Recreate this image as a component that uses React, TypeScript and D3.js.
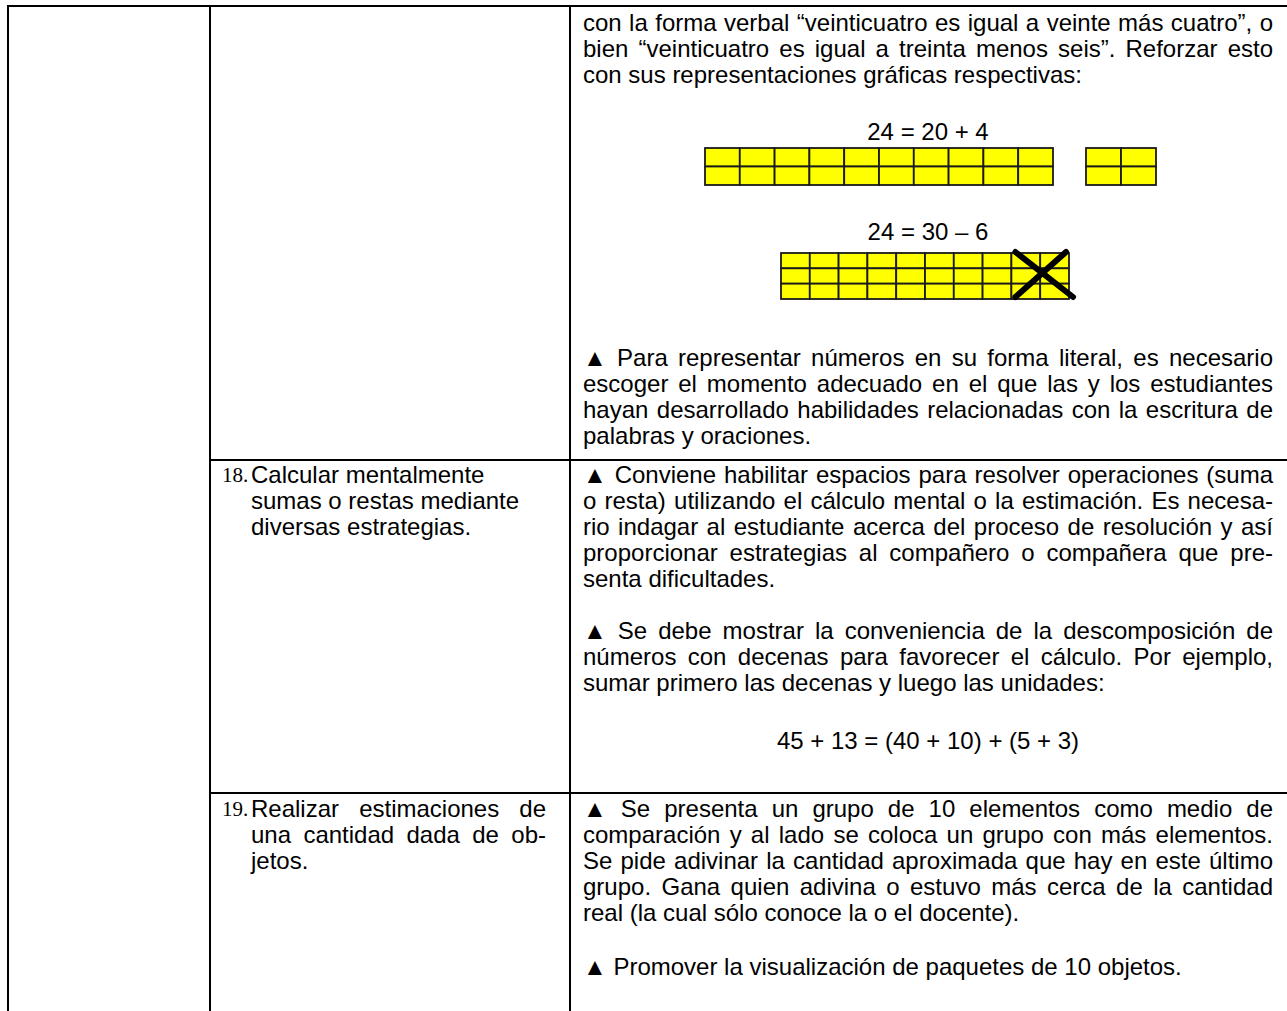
import React, { useEffect, useRef } from 'react';
import * as d3 from 'd3';

// table text, one entry per printed line
const topCellLines = [
  'con la forma verbal “veinticuatro es igual a veinte más cuatro”, o',
  'bien “veinticuatro es igual a treinta menos seis”. Reforzar esto',
  'con sus representaciones gráficas respectivas:',
];
const topCellBullet = [
  '▲ Para representar números en su forma literal, es necesario',
  'escoger el momento adecuado en el que las y los estudiantes',
  'hayan desarrollado habilidades relacionadas con la escritura de',
  'palabras y oraciones.',
];
const row18Bullet1 = [
  '▲ Conviene habilitar espacios para resolver operaciones (suma',
  'o resta) utilizando el cálculo mental o la estimación. Es necesa-',
  'rio indagar al estudiante acerca del proceso de resolución y así',
  'proporcionar estrategias al compañero o compañera que pre-',
  'senta dificultades.',
];
const row18Bullet2 = [
  '▲ Se debe mostrar la conveniencia de la descomposición de',
  'números con decenas para favorecer el cálculo. Por ejemplo,',
  'sumar primero las decenas y luego las unidades:',
];
const row19Bullet1 = [
  '▲ Se presenta un grupo de 10 elementos como medio de',
  'comparación y al lado se coloca un grupo con más elementos.',
  'Se pide adivinar la cantidad aproximada que hay en este último',
  'grupo. Gana quien adivina o estuvo más cerca de la cantidad',
  'real (la cual sólo conoce la o el docente).',
];
const row19Bullet2 = ['▲ Promover la visualización de paquetes de 10 objetos.'];

const objectives = [
  { num: '18.', lines: ['Calcular mentalmente', 'sumas o restas mediante', 'diversas estrategias.'], justify: false },
  { num: '19.', lines: ['Realizar estimaciones de', 'una cantidad dada de ob-', 'jetos.'], justify: true },
];

const formulaAdd = '24 = 20 + 4';
const formulaSub = '24 = 30 – 6';
const formulaMental = '45 + 13 = (40 + 10) + (5 + 3)';

// 24 = 20 + 4 : two strips of ten and a block of four (2 rows)
const addRows = 2;
const addTensCols = 10;
const addOnesCols = 2;
// 24 = 30 - 6 : 3 rows of ten, last two columns crossed
const subRows = 3;
const subCols = 10;
const subCrossedCols = 2;

const W = 1287;
const H = 1011;
const FONT = 'Liberation Sans, Arial, sans-serif';
const FS = 24;
const LH = 26;
const textL = 583;
const textR = 1273;
const colL = 8, col1 = 210, col2 = 570;
const topY = 6, row2Y = 460, row3Y = 793;

type Block = { lines: string[]; y: number; justify: boolean; x0: number; x1: number };

const blocks: Block[] = [
  { lines: topCellLines, y: 22, justify: true, x0: textL, x1: textR },
  { lines: topCellBullet, y: 357, justify: true, x0: textL, x1: textR },
  { lines: row18Bullet1, y: 474, justify: true, x0: textL, x1: textR },
  { lines: row18Bullet2, y: 630, justify: true, x0: textL, x1: textR },
  { lines: row19Bullet1, y: 808, justify: true, x0: textL, x1: textR },
  { lines: row19Bullet2, y: 966, justify: false, x0: textL, x1: textR },
];

const App = () => {
  const ref = useRef<SVGSVGElement>(null);

  useEffect(() => {
    const svg = d3.select(ref.current);
    svg.selectAll('*').remove();

    // table rules
    const rules = svg.append('g').attr('stroke', '#000').attr('stroke-width', 2);
    rules.append('line').attr('x1', colL - 1).attr('x2', W).attr('y1', topY).attr('y2', topY);
    [colL, col1, col2].forEach(x =>
      rules.append('line').attr('x1', x).attr('x2', x).attr('y1', topY - 1).attr('y2', H));
    [row2Y, row3Y].forEach(y =>
      rules.append('line').attr('x1', col1).attr('x2', W).attr('y1', y).attr('y2', y));

    // paragraph lines, justified except the last of each block
    const txt = svg.append('g').attr('font-family', FONT).attr('font-size', FS).attr('fill', '#000');
    const drawLine = (s: string, x0: number, x1: number, y: number, justify: boolean) => {
      const t = txt.append('text').attr('x', x0).attr('y', y).attr('dy', '0.36em').text(s);
      if (justify) {
        const natural = (t.node() as SVGTextElement).getComputedTextLength();
        const spaces = (s.match(/ /g) || []).length;
        if (spaces > 0) t.attr('word-spacing', (x1 - x0 - natural) / spaces);
      }
    };
    blocks.forEach(b => {
      b.lines.forEach((s, i) => {
        const last = i === b.lines.length - 1;
        drawLine(s, b.x0, b.x1, b.y + i * LH, b.justify && !last);
      });
    });

    // objectives column
    const objY = [474, 808];
    objectives.forEach((o, k) => {
      txt.append('text').attr('x', 222).attr('y', objY[k]).attr('dy', '0.36em')
        .attr('font-size', 21)
        .attr('font-family', 'Liberation Serif, Times New Roman, serif').text(o.num);
      o.lines.forEach((s, i) => {
        drawLine(s, 251, 546, objY[k] + i * LH, o.justify && i < o.lines.length - 1);
      });
    });

    // centred formulas
    const midX = (textL + textR) / 2;
    [[formulaAdd, 131], [formulaSub, 231], [formulaMental, 740]].forEach(([s, y]) => {
      txt.append('text').attr('x', midX).attr('y', y as number).attr('dy', '0.36em')
        .attr('text-anchor', 'middle').text(s as string);
    });

    // yellow unit grids
    const drawGrid = (g: d3.Selection<SVGGElement, unknown, null, undefined>, cols: number, rows: number,
      x0: number, x1: number, y0: number, y1: number) => {
      const x = d3.scaleBand<number>().domain(d3.range(cols)).range([x0, x1]).paddingInner(0);
      const y = d3.scaleBand<number>().domain(d3.range(rows)).range([y0, y1]).paddingInner(0);
      const cells = d3.cross(d3.range(cols), d3.range(rows));
      g.selectAll(null).data(cells).join('rect')
        .attr('x', d => x(d[0])!)
        .attr('y', d => y(d[1])!)
        .attr('width', x.bandwidth())
        .attr('height', y.bandwidth())
        .attr('fill', '#ffff00')
        .attr('stroke', '#1a1a1a')
        .attr('stroke-width', 1.8);
      return { x, y };
    };

    const fig = svg.append('g');
    drawGrid(fig.append('g'), addTensCols, addRows, 705, 1053, 148, 185);
    drawGrid(fig.append('g'), addOnesCols, addRows, 1086, 1156, 148, 185);
    const sub = drawGrid(fig.append('g'), subCols, subRows, 781, 1069, 253, 299);

    // cross over the removed columns
    const cx0 = sub.x(subCols - subCrossedCols)!;
    const cx1 = sub.x(subCols - 1)! + sub.x.bandwidth();
    const cross = fig.append('g').attr('stroke', '#000').attr('stroke-width', 6).attr('stroke-linecap', 'round');
    cross.append('line').attr('x1', cx0 + 4).attr('y1', 252).attr('x2', cx1 + 4).attr('y2', 297);
    cross.append('line').attr('x1', cx0 + 4).attr('y1', 297).attr('x2', cx1 - 3).attr('y2', 252);
  }, []);

  return (
    <svg ref={ref} width={W} height={H} style={{ position: 'absolute', left: 0, top: 0, background: '#fff' }} />
  );
};

export default App;
